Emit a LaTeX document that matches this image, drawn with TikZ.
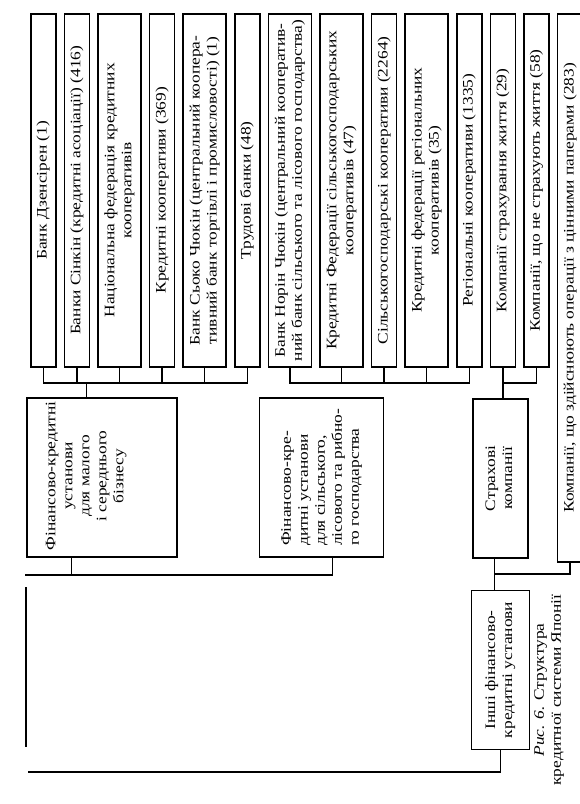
\documentclass[tikz,border=0pt]{standalone}
\usepackage{fontspec}
\setmainfont[FakeStretch=1.2]{Liberation Serif}
\usepackage{graphicx}
\usepackage{tikz}
\usetikzlibrary{positioning, calc}
\newcommand{\vtxt}[2][c]{\rotatebox{90}{\begin{tabular}{@{}#1@{}}#2\end{tabular}}}
\tikzset{
  basebox/.style={rectangle, draw=black, line width=1.6pt, inner sep=0pt,
    font=\fontsize{14.5}{17}\selectfont},
  colbox/.style={basebox, minimum height=353pt, minimum width=25pt},
  widebox/.style={colbox, minimum width=43pt},
  groupbox/.style={basebox, minimum height=159pt},
  grouptext/.style={inner sep=0pt, font=\fontsize{14.5}{17}\selectfont},
  link/.style={line width=1.5pt}
}
\begin{document}
\begin{tikzpicture}[x=1pt, y=-1pt, node distance=7pt]
  \useasboundingbox (0,0) rectangle (580,804);

  % institutions, left to right
  \node[colbox, anchor=north west] (b1) at (30,13) {\vtxt{Банк Дзенсірен (1)}};
  \node[colbox, right=of b1] (b2) {\vtxt{Банки Сінкін (кредитні асоціації) (416)}};
  \node[widebox, right=of b2] (b3) {\vtxt{Національна федерація кредитних\\кооперативів}};
  \node[colbox, right=of b3] (b4) {\vtxt{Кредитні кооперативи (369)}};
  \node[widebox, right=of b4] (b5) {\vtxt{Банк Сьоко Чюкін (центральний коопера-\\тивний банк торгівлі і промисловості) (1)}};
  \node[colbox, right=of b5] (b6) {\vtxt{Трудові банки (48)}};
  \node[widebox, right=of b6] (b7) {\vtxt{Банк Норін Чюкін (центральний кооператив-\\ний банк сільського та лісового господарства)}};
  \node[widebox, right=of b7] (b8) {\vtxt{Кредитні Федерації сільськогосподарських\\кооперативів (47)}};
  \node[colbox, right=of b8] (b9) {\vtxt{Сільськогосподарські кооперативи (2264)}};
  \node[widebox, right=of b9] (b10) {\vtxt{Кредитні федерації регіональних\\кооперативів (35)}};
  \node[colbox, right=of b10] (b11) {\vtxt{Регіональні кооперативи (1335)}};
  \node[colbox, right=of b11] (b12) {\vtxt{Компанії страхування життя (29)}};
  \node[colbox, right=of b12] (b13) {\vtxt{Компанії, що не страхують життя (58)}};
  \node[colbox, minimum height=548pt, right=of b13.north east, anchor=north west] (b14)
        {\vtxt{Компанії, що здійснюють операції з цінними паперами (283)}};

  % groups
  \node[groupbox, minimum width=150pt, anchor=north west] (smb) at (26,397) {};
  \node[grouptext] (smbtxt) at (86,476)
        {\vtxt{Фінансово-кредитні\\установи\\для малого\\і середнього\\бізнесу}};
  \node[groupbox, minimum width=124pt, right=81pt of smb] (agr)
        {\vtxt[l]{Фінансово-кре-\\дитні установи\\для сільського,\\лісового та рибно-\\го господарства}};
  \node[groupbox, minimum width=55pt, anchor=north west] (ins) at (472,398)
        {\vtxt{Страхові\\компанії}};
  \node[groupbox, minimum width=58pt, below=31pt of ins] (oth)
        {\vtxt{Інші фінансово-\\кредитні установи}};

  % caption
  \node[grouptext] (cap) at (549,690)
        {\vtxt{\textit{Рис. 6.} Структура\\кредитної системи Японії}};

  % upper buses
  \coordinate (bus) at (0,383);
  \foreach \b in {b2,b3,b4,b5,b8,b9,b10}
    \draw[link] (\b.south) -- (\b.south |- bus);
  \draw[link] (b1.south) |- (b6.south |- bus) -- (b6.south);
  \draw[link] (b7.south) |- (b11.south |- bus) -- (b11.south);
  \draw[link] (b13.south) |- (b12.south |- bus) -- (b12.south);
  \draw[link] (b12.south |- bus) -- (b12.south |- ins.north);
  \coordinate (smbtop) at ($(smb.north west)!0.4!(smb.north east)$);
  \draw[link] (smbtop) -- (smbtop |- bus);

  % lower buses
  \coordinate (smbbot) at ($(smb.south west)!0.3!(smb.south east)$);
  \coordinate (agrbot) at ($(agr.south west)!0.59!(agr.south east)$);
  \coordinate (lowbus) at (25,575);
  \draw[link] (smbbot) -- (smbbot |- lowbus);
  \draw[link] (lowbus) -| (agrbot);
  \coordinate (insbot) at ($(ins.south west)!0.4!(ins.south east)$);
  \coordinate (insbus) at (0,574);
  \draw[link] (insbot) -- (insbot |- oth.north);
  \draw[link] (b14.south) |- (insbot |- insbus);
  \coordinate (bottom) at (28,772);
  \draw[link] (oth.south) |- (bottom);

  % left edge
  \coordinate (leftup) at (26,587);
  \coordinate (leftdn) at (26,747);
  \draw[line width=2.4pt] (leftup) -- (leftdn);
\end{tikzpicture}
\end{document}
